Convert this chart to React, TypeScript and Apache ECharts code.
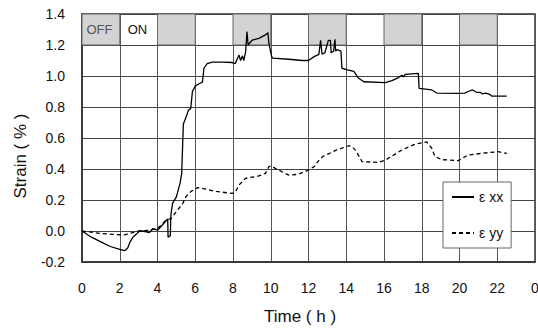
import React, { useEffect, useRef } from "react";
import * as echarts from "echarts";

const xTicks = { min: 0, max: 24, interval: 2 };
const yTicks = { min: -0.2, max: 1.4, interval: 0.2 };

const seriesNames = ["ε xx", "ε yy"];

const exx: [number, number][] = [
  [0, 0], [0.5, -0.04], [1, -0.07], [1.5, -0.1], [2.0, -0.118], [2.26, -0.127], [2.42, -0.11], [2.55, -0.07],
  [2.7, -0.04], [2.88, -0.02], [3.05, 0.0], [3.2, 0.0], [3.4, -0.005], [3.57, -0.01], [3.75, 0.015], [3.9, 0.01],
  [4.0, 0.005], [4.27, 0.04], [4.54, 0.078], [4.56, -0.04], [4.68, -0.03], [4.7, 0.08], [4.72, 0.114], [4.8, 0.18],
  [5.0, 0.22], [5.2, 0.31], [5.28, 0.37], [5.3, 0.44], [5.37, 0.69], [5.5, 0.73], [5.64, 0.78], [5.76, 0.79],
  [5.85, 0.9], [6.0, 0.935], [6.2, 0.95], [6.38, 0.96], [6.46, 1.05], [6.63, 1.08], [6.9, 1.09], [7.5, 1.09],
  [7.95, 1.087], [8.12, 1.08], [8.32, 1.135], [8.4, 1.1], [8.5, 1.13], [8.57, 1.1], [8.67, 1.157], [8.74, 1.286],
  [8.8, 1.2], [9.02, 1.232], [9.37, 1.243], [9.72, 1.265], [9.85, 1.28], [9.9, 1.21], [10.05, 1.125], [10.1, 1.115],
  [10.96, 1.108], [11.66, 1.1], [12.0, 1.1], [12.3, 1.125], [12.55, 1.14], [12.64, 1.23], [12.72, 1.14], [12.87, 1.15],
  [13.05, 1.23], [13.16, 1.23], [13.2, 1.15], [13.33, 1.16], [13.4, 1.237], [13.44, 1.16], [13.51, 1.17], [13.72, 1.16],
  [13.77, 1.05], [14.07, 1.04], [14.4, 1.03], [14.66, 0.985], [14.93, 0.963], [16.07, 0.957], [16.42, 0.97], [16.77, 0.99],
  [16.95, 1.005], [17.04, 0.995], [17.12, 1.01], [17.82, 1.017], [17.86, 0.92], [18.53, 0.91], [18.8, 0.89], [19.93, 0.888],
  [20.28, 0.89], [20.45, 0.9], [20.7, 0.91], [20.9, 0.895], [21.1, 0.895], [21.2, 0.885], [21.4, 0.89], [21.6, 0.882],
  [21.7, 0.871], [22.5, 0.87],
];

const eyy: [number, number][] = [
  [0, 0], [0.94, -0.015], [1.6, -0.022], [2.25, -0.025], [3.0, 0.0], [3.57, 0.005], [4.0, 0.015], [4.45, 0.07],
  [4.72, 0.08], [5.0, 0.125], [5.35, 0.18], [5.5, 0.22], [5.76, 0.254], [6.13, 0.28], [6.57, 0.27], [7.1, 0.255],
  [7.95, 0.243], [8.12, 0.25], [8.32, 0.297], [8.67, 0.34], [9.37, 0.355], [9.72, 0.372], [9.9, 0.415], [10.0, 0.42],
  [10.4, 0.394], [10.96, 0.36], [11.4, 0.365], [11.83, 0.383], [12.3, 0.415], [12.56, 0.458], [12.75, 0.48], [13.44, 0.52],
  [14.13, 0.55], [14.3, 0.545], [14.5, 0.52], [14.84, 0.447], [15.72, 0.443], [16.07, 0.457], [16.95, 0.523], [17.65, 0.56],
  [18.26, 0.575], [18.53, 0.534], [18.7, 0.48], [19.1, 0.46], [19.93, 0.454], [20.45, 0.49], [21.17, 0.501], [22.05, 0.512],
  [22.5, 0.5],
];

// OFF/ON periods in the top band
const periodStarts = [0, 2, 4, 6, 8, 10, 12, 14, 16, 18, 20, 22];
const periodLabels = ["OFF", "ON", "", "", "", "", "", "", "", "", "", ""];
const bandRange = [1.2, 1.4];

const FONT = "Liberation Sans, Arial, sans-serif";

export default function App() {
  const ref = useRef<HTMLDivElement>(null);
  useEffect(() => {
    document.body.style.margin = "0";
    const chart = echarts.init(ref.current!, null, { renderer: "svg" });
    const bandData = periodStarts.map((s, i) => {
      const shaded = i % 2 === 0;
      return [
        {
          xAxis: s,
          yAxis: bandRange[0],
          itemStyle: { color: shaded ? "#d3d3d3" : "rgba(0,0,0,0)", borderColor: "#666", borderWidth: shaded ? 1 : 0 },
          label: {
            show: periodLabels[i] !== "",
            formatter: periodLabels[i],
            position: "insideLeft",
            distance: i === 0 ? 5 : 8,
            color: i === 0 ? "#555" : "#111",
            fontSize: 13,
            fontFamily: FONT,
          },
        },
        { xAxis: s + 2, yAxis: bandRange[1] },
      ];
    });
    chart.setOption({
      animation: false,
      backgroundColor: "#fff",
      grid: {
        left: 82,
        top: 14,
        right: 3,
        bottom: 66,
        show: true,
        borderColor: "#333",
        borderWidth: 1.5,
        containLabel: false,
        outerBoundsMode: "none",
      },
      xAxis: {
        type: "value",
        min: xTicks.min,
        max: xTicks.max,
        interval: xTicks.interval,
        axisLine: { show: true, onZero: false, lineStyle: { color: "#333", width: 1.5 } },
        axisTick: { show: false },
        splitLine: { show: true, lineStyle: { color: "#555", width: 1 } },
        axisLabel: {
          color: "#111",
          fontSize: 14,
          fontFamily: FONT,
          margin: 19,
          showMaxLabel: true,
          hideOverlap: false,
          formatter: (v: number) => (v === 24 ? "0" : String(v)),
        },
      },
      yAxis: {
        type: "value",
        min: yTicks.min,
        max: yTicks.max,
        interval: yTicks.interval,
        axisLine: { show: true, lineStyle: { color: "#333", width: 1.5 } },
        axisTick: { show: false },
        splitLine: { show: true, lineStyle: { color: "#444", width: 1 } },
        axisLabel: {
          color: "#111",
          fontSize: 14,
          fontFamily: FONT,
          margin: 17,
          formatter: (v: number) => v.toFixed(1),
        },
      },
      legend: {
        orient: "vertical",
        left: 443,
        top: 182,
        padding: [8, 8, 8, 8],
        itemWidth: 22,
        itemHeight: 14,
        itemGap: 22,
        backgroundColor: "#fff",
        borderColor: "#666",
        borderWidth: 1,
        borderRadius: 0,
        itemStyle: { opacity: 0 },
        textStyle: { color: "#111", fontSize: 14, fontFamily: FONT },
        data: seriesNames,
      },
      graphic: [
        {
          type: "text",
          x: 20,
          y: 156,
          rotation: Math.PI / 2,
          style: {
            text: "Strain ( % )",
            fontSize: 17,
            fontFamily: FONT,
            fill: "#111",
            align: "center",
            verticalAlign: "middle",
          },
        },
        {
          type: "text",
          x: 300,
          y: 316,
          style: {
            text: "Time ( h )",
            fontSize: 17,
            fontFamily: FONT,
            fill: "#111",
            align: "center",
            verticalAlign: "middle",
          },
        },
      ],
      series: [
        {
          name: "band",
          type: "line",
          data: [],
          silent: true,
          z: 1,
          markArea: { silent: true, data: bandData },
        },
        {
          name: seriesNames[0],
          type: "line",
          data: exx,
          showSymbol: false,
          symbol: "none",
          color: "#000",
          lineStyle: { color: "#000", width: 1.3 },
          z: 5,
        },
        {
          name: seriesNames[1],
          type: "line",
          data: eyy,
          showSymbol: false,
          symbol: "none",
          color: "#000",
          lineStyle: { color: "#000", width: 1.3, type: [4, 3] },
          z: 5,
        },
      ],
    });
    return () => chart.dispose();
  }, []);
  return <div ref={ref} style={{ width: 538, height: 328 }} />;
}
